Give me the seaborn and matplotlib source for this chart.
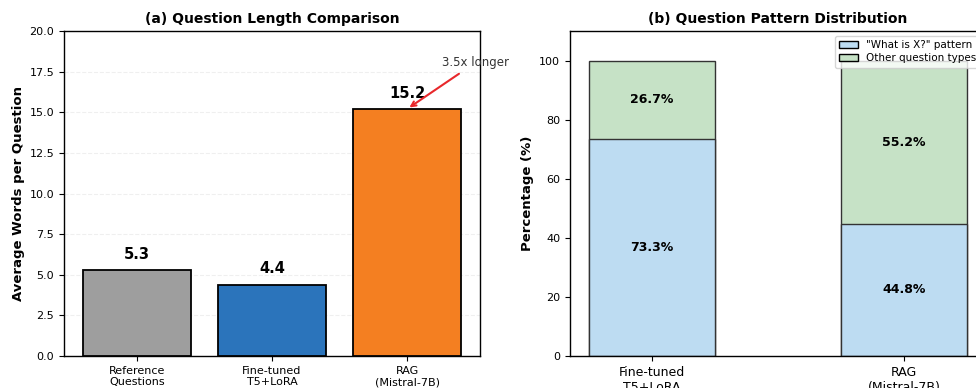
import matplotlib
matplotlib.use("Agg")
import matplotlib.pyplot as plt
import seaborn as sns
import pandas as pd
from matplotlib.patches import Patch

sns.set_style("white")
plt.rcParams['font.family'] = ['DejaVu Sans']
plt.rcParams.update({"text.color": "black", "axes.labelcolor": "black",
                     "xtick.color": "black", "ytick.color": "black",
                     "axes.titlecolor": "black"})

# Panel (a)
len_categories = ["Reference\nQuestions", "Fine-tuned\nT5+LoRA", "RAG\n(Mistral-7B)"]
len_values = [5.3, 4.4, 15.2]
len_colors = ["#9e9e9e", "#2b74bb", "#f47f21"]
annot_text = "3.5x longer"

# Panel (b)
pat_categories = ["Fine-tuned\nT5+LoRA", "RAG\n(Mistral-7B)"]
what_is_x = [73.3, 44.8]
other_types = [26.7, 55.2]
pat_labels = ['"What is X?" pattern', 'Other question types']
pat_colors = ["#bddcf2", "#c6e2c6"]

fig = plt.figure(figsize=(9.76, 3.88), dpi=100)
W, H = 976, 388
ax1 = fig.add_axes([64 / W, 32 / H, 416 / W, 325 / H])
ax2 = fig.add_axes([570 / W, 32 / H, 416 / W, 325 / H])

# ---- (a)
df1 = pd.DataFrame({"cat": len_categories, "val": len_values})
sns.barplot(data=df1, x="cat", y="val", hue="cat", palette=len_colors, legend=False,
            edgecolor="black", linewidth=1.3, width=0.8, saturation=1, ax=ax1, zorder=3)
ax1.set_xlim(-0.54, 2.54)
ax1.set_ylim(0, 20)
ax1.set_yticks([0, 2.5, 5, 7.5, 10, 12.5, 15, 17.5, 20])
ax1.yaxis.grid(True, linestyle="--", alpha=0.3, zorder=0)
ax1.set_axisbelow(True)
for i, v in enumerate(len_values):
    ax1.text(i, v + 0.5, f"{v:.1f}", ha="center", va="bottom", fontsize=10.5, fontweight="bold")
ax1.annotate(annot_text, xy=(2, len_values[2]), xytext=(2.26, 17.85),
             fontsize=8.5, color="#333333",
             arrowprops=dict(arrowstyle="->", color="#e8282b", lw=1.5))
ax1.set_title("(a) Question Length Comparison", fontsize=10, fontweight="bold")
ax1.set_ylabel("Average Words per Question", fontsize=9.5, fontweight="bold", labelpad=3.5)
ax1.set_xlabel("")
ax1.tick_params(axis="x", labelsize=8, length=3.5, bottom=True)
ax1.tick_params(axis="y", labelsize=8, length=3.5, left=True)
for s in ax1.spines.values():
    s.set_color("black")
    s.set_linewidth(1.0)

# ---- (b)
totals = [a + b for a, b in zip(what_is_x, other_types)]
df_tot = pd.DataFrame({"cat": pat_categories, "val": totals})
df_what = pd.DataFrame({"cat": pat_categories, "val": what_is_x})
sns.barplot(data=df_tot, x="cat", y="val", color=pat_colors[1], saturation=1,
            edgecolor="#333333", linewidth=1.0, width=0.5, ax=ax2)
sns.barplot(data=df_what, x="cat", y="val", color=pat_colors[0], saturation=1,
            edgecolor="#333333", linewidth=1.0, width=0.5, ax=ax2)
ax2.set_xlim(-0.325, 1.325)
ax2.set_ylim(0, 110)
for i in range(len(pat_categories)):
    ax2.text(i, what_is_x[i] / 2, f"{what_is_x[i]:.1f}%", ha="center", va="center",
             fontsize=9, fontweight="bold")
    ax2.text(i, what_is_x[i] + other_types[i] / 2, f"{other_types[i]:.1f}%", ha="center",
             va="center", fontsize=9, fontweight="bold")
ax2.set_title("(b) Question Pattern Distribution", fontsize=10, fontweight="bold")
ax2.set_ylabel("Percentage (%)", fontsize=9.5, fontweight="bold", labelpad=3.5)
ax2.set_xlabel("")
ax2.tick_params(axis="x", labelsize=9, length=3.5, bottom=True)
ax2.tick_params(axis="y", labelsize=8, length=3.5, left=True)
for s in ax2.spines.values():
    s.set_color("black")
    s.set_linewidth(1.0)
handles = [Patch(facecolor=pat_colors[0], edgecolor="black", label=pat_labels[0]),
           Patch(facecolor=pat_colors[1], edgecolor="black", label=pat_labels[1])]
ax2.legend(handles=handles, loc="upper right", fontsize=7.5, frameon=True,
           handlelength=1.8, borderpad=0.4, labelspacing=0.3)

fig.savefig("out.png", dpi=100)
